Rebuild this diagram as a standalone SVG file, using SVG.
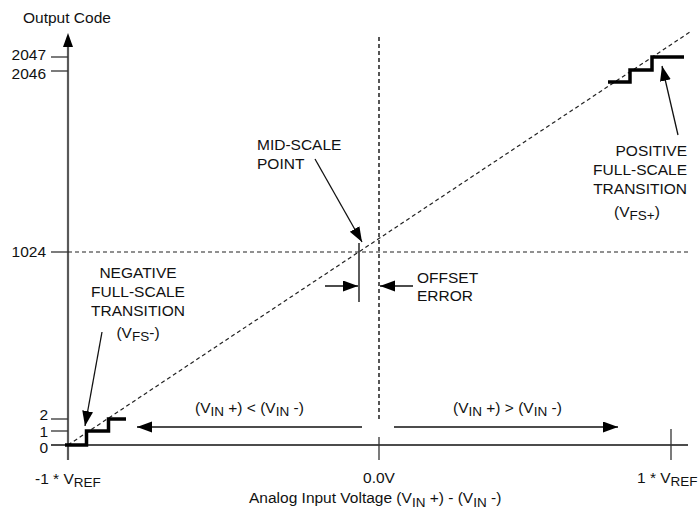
<svg xmlns="http://www.w3.org/2000/svg" width="700" height="516" viewBox="0 0 700 516">
<style>
text{font-family:"Liberation Sans",Arial,sans-serif;font-size:15.5px;fill:#111}
.sub{font-size:13.5px}
.dash{fill:none;stroke:#222;stroke-width:1.2;stroke-dasharray:4,3}
.vdash{fill:none;stroke:#444;stroke-width:1.8;stroke-dasharray:4,3}
.tick{stroke:#333;stroke-width:1.3}
.ln{stroke:#111;stroke-width:1.3;fill:none}
.step{fill:none;stroke:#000;stroke-width:3.5}
</style>
<defs>
<marker id="ah" markerUnits="userSpaceOnUse" markerWidth="16" markerHeight="12" refX="15" refY="5.5" orient="auto">
<path d="M0,0 L15,5.5 L0,11 z" fill="#000"/>
</marker>
</defs>
<rect width="700" height="516" fill="#fff"/>
<g id="axes">
<line x1="68" y1="46" x2="68" y2="460" stroke="#595959" stroke-width="2.2"/>
<path d="M68,33 L73,47 L63,47 z" fill="#000"/>
<line x1="51" y1="445" x2="688" y2="445" stroke="#111" stroke-width="1.4"/>
<line class="tick" x1="51" y1="57" x2="68" y2="57"/>
<line class="tick" x1="51" y1="71" x2="68" y2="71"/>
<line class="tick" x1="51" y1="252" x2="68" y2="252"/>
<line class="tick" x1="51" y1="419" x2="68" y2="419"/>
<line class="tick" x1="51" y1="431" x2="68" y2="431"/>
<line class="tick" x1="379" y1="437" x2="379" y2="460" stroke-width="1.6"/>
<line class="tick" x1="671" y1="429" x2="671" y2="460" stroke-width="1.6"/>
<line class="vdash" x1="379" y1="37" x2="379" y2="419"/>
<line class="dash" x1="68" y1="252" x2="690" y2="252"/>
<line class="dash" x1="68" y1="445" x2="690" y2="32"/>
</g>
<g id="axis-labels">
<text x="23" y="23">Output Code</text>
<text x="46" y="60" text-anchor="end">2047</text>
<text x="46" y="79" text-anchor="end">2046</text>
<text x="46" y="257" text-anchor="end">1024</text>
<text x="48" y="420" text-anchor="end">2</text>
<text x="48" y="437" text-anchor="end">1</text>
<text x="48" y="453" text-anchor="end">0</text>
<text x="35" y="484">-1 * V<tspan class="sub" dy="3">REF</tspan></text>
<text x="379" y="483" text-anchor="middle">0.0V</text>
<text x="637" y="483">1 * V<tspan class="sub" dy="3">REF</tspan></text>
<text x="249" y="503">Analog Input Voltage (V<tspan class="sub" dy="3.5">IN</tspan><tspan dy="-3.5"> +) - (V</tspan><tspan class="sub" dy="3.5">IN</tspan><tspan dy="-3.5"> -)</tspan></text>
</g>
<g id="negative-steps">
<path class="step" d="M65,445 H86.5 V431 H108.5 V419 H126"/>
</g>
<g id="positive-steps">
<path class="step" d="M608,82 H630 V70 H652 V57 H684"/>
</g>
<g id="mid-scale-marker">
<line x1="359" y1="243" x2="359" y2="302" stroke="#333" stroke-width="1.6"/>
</g>
<g id="mid-scale-label">
<text x="257" y="150">MID-SCALE</text>
<text x="257" y="169">POINT</text>
</g>
<g id="offset-label">
<text x="417" y="282.5">OFFSET</text>
<text x="417" y="301">ERROR</text>
</g>
<g id="negative-label" text-anchor="middle">
<text x="138" y="277.5">NEGATIVE</text>
<text x="138" y="296.5">FULL-SCALE</text>
<text x="138" y="315.5">TRANSITION</text>
<text x="138" y="338">(V<tspan class="sub" dy="3">FS</tspan><tspan dy="-3">-)</tspan></text>
</g>
<g id="positive-label" text-anchor="end">
<text x="687" y="155.5">POSITIVE</text>
<text x="687" y="174.5">FULL-SCALE</text>
<text x="687" y="193.5">TRANSITION</text>
<text x="637" y="217" text-anchor="middle">(V<tspan class="sub" dy="3">FS+</tspan><tspan dy="-3">)</tspan></text>
</g>
<g id="range-labels">
<text x="195" y="413">(V<tspan class="sub" dy="3">IN</tspan><tspan dy="-3"> +) &lt; (V</tspan><tspan class="sub" dy="3">IN</tspan><tspan dy="-3"> -)</tspan></text>
<text x="453" y="413">(V<tspan class="sub" dy="3">IN</tspan><tspan dy="-3"> +) &gt; (V</tspan><tspan class="sub" dy="3">IN</tspan><tspan dy="-3"> -)</tspan></text>
</g>
<g id="connectors">
<line class="ln" x1="315" y1="159" x2="362" y2="242" marker-end="url(#ah)"/>
<line class="ln" x1="102" y1="332" x2="85" y2="426" marker-end="url(#ah)"/>
<line class="ln" x1="678" y1="135" x2="662" y2="66" marker-end="url(#ah)"/>
<line class="ln" x1="325" y1="286" x2="358" y2="286" marker-end="url(#ah)"/>
<line class="ln" x1="413" y1="286" x2="380" y2="286" marker-end="url(#ah)"/>
<line class="ln" x1="362" y1="427" x2="137" y2="427" marker-end="url(#ah)"/>
<line class="ln" x1="394" y1="427" x2="618" y2="427" marker-end="url(#ah)"/>
</g>
</svg>
